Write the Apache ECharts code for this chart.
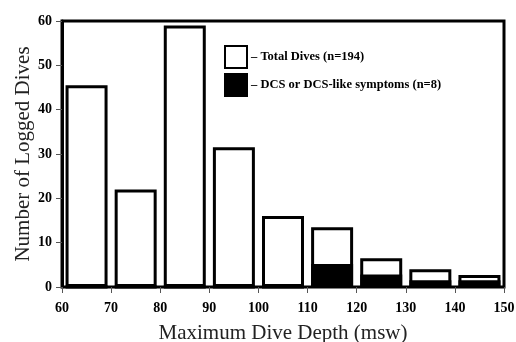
<!DOCTYPE html>
<html>
<head>
<meta charset="utf-8">
<script src="https://cdn.jsdelivr.net/npm/echarts@6/dist/echarts.min.js"></script>
<style>
    html, body { margin: 0; padding: 0; background: #fff; }
    #chart_dives { width: 516px; height: 342px; }
</style>
</head>
<body>
<div id="chart_dives"></div>
<script>
// bin centres (msw) and counts
var depthBins = [65, 75, 85, 95, 105, 115, 125, 135, 145];
var totalDives = [45.5, 22, 59, 31.5, 16, 13.5, 6.5, 4, 2.7];
var dcsDives = [0, 0, 0, 0, 0, 5.2, 2.8, 1.5, 1.5];
var xTicks = [60, 70, 80, 90, 100, 110, 120, 130, 140, 150];
var yTicks = [0, 10, 20, 30, 40, 50, 60];

var serif = "'Liberation Serif', 'DejaVu Serif', serif";

function pairs(vals) {
    var out = [];
    for (var i = 0; i < depthBins.length; i++) {
        out.push([depthBins[i], vals[i]]);
    }
    return out;
}

var chart_dives = echarts.init(document.getElementById('chart_dives'));

var option = {
    animation: false,
    grid: {
        left: 62,
        right: 12,
        top: 21,
        bottom: 55,
        outerBoundsMode: 'none',
        show: true,
        borderColor: '#000',
        borderWidth: 3,
        backgroundColor: 'transparent'
    },
    legend: {
        orient: 'vertical',
        left: 224,
        top: 45,
        padding: 0,
        icon: 'rect',
        itemWidth: 22,
        itemHeight: 22,
        itemGap: 4,
        textStyle: {
            fontFamily: serif,
            fontWeight: 'bold',
            fontSize: 12.5,
            color: '#000',
            padding: [0, 0, 0, -1]
        },
        data: ['– Total Dives (n=194)', '– DCS or DCS-like symptoms (n=8)']
    },
    xAxis: {
        type: 'value',
        min: xTicks[0],
        max: xTicks[xTicks.length - 1],
        interval: 10,
        name: 'Maximum Dive Depth (msw)',
        nameLocation: 'middle',
        nameGap: 36,
        nameMoveOverlap: false,
        nameTextStyle: { fontFamily: serif, fontSize: 21, color: '#222' },
        splitLine: { show: false },
        axisLine: { lineStyle: { color: '#000', width: 2 } },
        axisTick: { show: true, length: 6, lineStyle: { color: '#555', width: 1 } },
        axisLabel: {
            fontFamily: serif, fontWeight: 'bold', fontSize: 14, color: '#000', margin: 14
        }
    },
    yAxis: {
        type: 'value',
        min: yTicks[0],
        max: yTicks[yTicks.length - 1],
        interval: 10,
        name: 'Number of Logged Dives',
        nameLocation: 'middle',
        nameGap: 28,
        nameMoveOverlap: false,
        nameTextStyle: { fontFamily: serif, fontSize: 21, color: '#222' },
        splitLine: { show: false },
        axisLine: { show: true, lineStyle: { color: '#000', width: 3 } },
        axisTick: { show: true, length: 6, lineStyle: { color: '#555', width: 1 } },
        axisLabel: {
            fontFamily: serif, fontWeight: 'bold', fontSize: 14, color: '#000', margin: 10
        }
    },
    series: [
        {
            name: '– Total Dives (n=194)',
            type: 'bar',
            barWidth: 42,
            barGap: '-100%',
            itemStyle: { color: '#fff', borderColor: '#000', borderWidth: 3 },
            data: pairs(totalDives)
        },
        {
            name: '– DCS or DCS-like symptoms (n=8)',
            type: 'bar',
            barWidth: 42,
            barGap: '-100%',
            itemStyle: { color: '#000', borderColor: '#000', borderWidth: 3 },
            data: pairs(dcsDives)
        }
    ]
};

chart_dives.setOption(option);
</script>
</body>
</html>
